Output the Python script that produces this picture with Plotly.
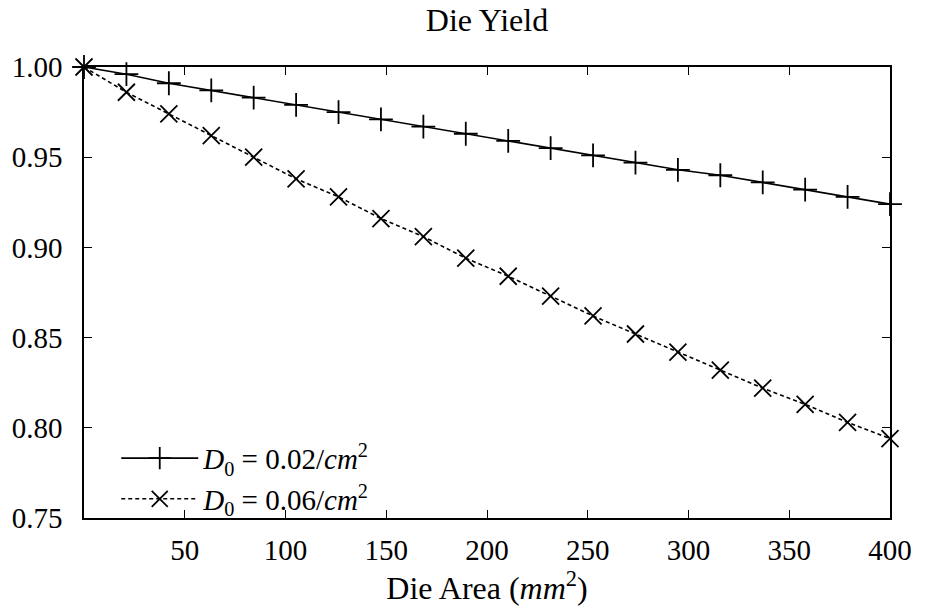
import plotly.graph_objects as go

# Data
die_area = [0.00, 21.05, 42.11, 63.16, 84.21, 105.26, 126.32, 147.37, 168.42, 189.47,
            210.53, 231.58, 252.63, 273.68, 294.74, 315.79, 336.84, 357.89, 378.95, 400.00]
yield_d002 = [1.000, 0.996, 0.991, 0.987, 0.983, 0.979, 0.975, 0.971, 0.967, 0.963,
              0.959, 0.955, 0.951, 0.947, 0.943, 0.940, 0.936, 0.932, 0.928, 0.924]
yield_d006 = [1.000, 0.986, 0.974, 0.962, 0.950, 0.938, 0.928, 0.916, 0.906, 0.894,
              0.884, 0.873, 0.862, 0.852, 0.842, 0.832, 0.822, 0.813, 0.803, 0.794]
series_names = ["<i>D</i><sub>0</sub> = 0.02/<i>cm</i><sup>2</sup>",
                "<i>D</i><sub>0</sub> = 0.06/<i>cm</i><sup>2</sup>"]
x_ticks = [50, 100, 150, 200, 250, 300, 350, 400]
y_ticks = [0.75, 0.80, 0.85, 0.90, 0.95, 1.00]
y_tick_text = ["0.75", "0.80", "0.85", "0.90", "0.95", "1.00"]

FONT = "'Liberation Serif', 'Times New Roman', 'DejaVu Serif', serif"

fig = go.Figure()
fig.add_trace(go.Scatter(
    x=die_area, y=yield_d002, name=series_names[0], mode="lines+markers",
    line=dict(color="black", width=1.6),
    marker=dict(symbol="cross-thin", size=17, line=dict(color="black", width=1.8)),
    cliponaxis=False,
))
fig.add_trace(go.Scatter(
    x=die_area, y=yield_d006, name=series_names[1], mode="lines+markers",
    line=dict(color="black", width=1.6, dash="4px,3px"),
    marker=dict(symbol="x-thin", size=17, line=dict(color="black", width=1.8)),
    cliponaxis=False,
))

axis_common = dict(
    showgrid=False, zeroline=False, showline=True, linecolor="black", linewidth=1.5,
    mirror="allticks", ticks="inside", ticklen=8, tickwidth=1.3, tickcolor="black",
    tickfont=dict(family=FONT, size=29, color="black"),
)

fig.update_layout(
    width=925, height=613,
    margin=dict(l=84, r=35, t=67, b=95),
    paper_bgcolor="white", plot_bgcolor="white",
    font=dict(family=FONT, size=29, color="black"),
    title=dict(text="Die Yield", x=0.5, xref="paper", xanchor="center",
               y=0.967, yanchor="middle", font=dict(family=FONT, size=32, color="black")),
    xaxis=dict(range=[0, 400], tickvals=x_ticks, ticklabelstandoff=5,
               title=dict(text="Die Area (<i>mm</i><sup>2</sup>)", standoff=6,
                          font=dict(family=FONT, size=32)),
               **axis_common),
    yaxis=dict(range=[0.75, 1.00], tickvals=y_ticks, ticktext=y_tick_text,
               ticklabelstandoff=14, **axis_common),
    showlegend=True,
    legend=dict(x=0.04, y=-0.015, xanchor="left", yanchor="bottom",
                bgcolor="rgba(0,0,0,0)", borderwidth=0, itemwidth=77,
                tracegroupgap=0, font=dict(family=FONT, size=29, color="black")),
)

fig.write_html("out.html")
